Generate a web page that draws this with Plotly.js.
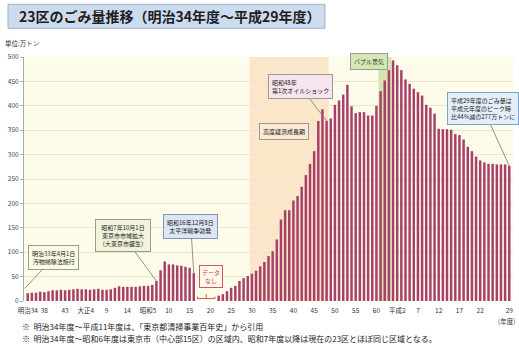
<!DOCTYPE html>
<html>
<head>
<meta charset="utf-8">
<script src="https://cdn.plot.ly/plotly-3.0.1.min.js"></script>
<style>
html,body{margin:0;padding:0;background:#fff;}
#chart{width:519px;height:357px;}
</style>
</head>
<body>
<div id="chart"></div>
<script>
// Fiscal years (西暦) and waste amount (万トン); null = no data
const fiscalYears = [
 1901,1902,1903,1904,1905,1906,1907,1908,1909,1910,
 1911,1912,1913,1914,1915,1916,1917,1918,1919,1920,
 1921,1922,1923,1924,1925,1926,1927,1928,1929,1930,
 1931,1932,1933,1934,1935,1936,1937,1938,1939,1940,
 1941,1942,1943,1944,1945,1946,1947,1948,1949,1950,
 1951,1952,1953,1954,1955,1956,1957,1958,1959,1960,
 1961,1962,1963,1964,1965,1966,1967,1968,1969,1970,
 1971,1972,1973,1974,1975,1976,1977,1978,1979,1980,
 1981,1982,1983,1984,1985,1986,1987,1988,1989,1990,
 1991,1992,1993,1994,1995,1996,1997,1998,1999,2000,
 2001,2002,2003,2004,2005,2006,2007,2008,2009,2010,
 2011,2012,2013,2014,2015,2016,2017
];
const wasteAmount = [
 16,17,17,19,18,20,22,22,23,22,
 23,24,25,24,24,23,24,25,23,23,
 24,27,30,29,29,29,29,30,31,31,
 33,41,63,81,75,75,73,72,70,68,
 57,null,null,null,null,null,11,14,20,27,
 31,41,47,51,56,62,71,80,92,102,
 126,167,186,186,206,215,234,258,281,307,
 369,393,369,374,402,411,423,443,399,385,
 387,387,380,380,400,430,452,473,493,483,
 473,454,445,435,428,421,402,396,384,353,
 352,352,351,342,340,331,316,307,296,288,
 284,281,281,280,280,280,277
];
const tickYears = [1901,1905,1910,1915,1920,1925,1930,1935,1940,1945,1950,1955,1960,1965,1970,1975,1980,1985,1990,1995,2000,2005,2010,2017];
const tickLabels = ['明治34','38','43','大正4','9','14','昭和5','10','15','20','25','30','35','40','45','50','55','60','平成2','7','12','17','22','29'];

const JP = '"Noto Sans CJK JP", "Noto Sans", sans-serif';

const trace = {
  type: 'bar',
  x: fiscalYears,
  y: wasteAmount,
  width: 0.6,
  marker: {color: '#a8416a', line: {width: 0}},
  hoverinfo: 'x+y'
};

// px helpers for layout placement (plot area: left 24, width 489, bottom 300.7, height 244)
const PL = 24, PW = 489, PB = 300.7, PH = 244;
const px = v => (v - PL) / PW;
const py = v => (PB - v) / PH;

function callout(text, x, y, ax, ay, bg, border, opts) {
  return Object.assign({
    text: text, x: x, y: y, xref: 'x', yref: 'y',
    ax: ax, ay: ay, axref: 'pixel', ayref: 'pixel',
    showarrow: true, arrowhead: 0, arrowwidth: 0.8, arrowcolor: '#777',
    bgcolor: bg, bordercolor: border, borderwidth: 1, borderpad: 3,
    font: {family: JP, size: 6, color: '#222'}, align: 'center'
  }, opts || {});
}
function box(text, cx, cy, bg, border, opts) {
  return Object.assign({
    text: text, x: px(cx), y: py(cy), xref: 'paper', yref: 'paper',
    xanchor: 'center', yanchor: 'middle', showarrow: false,
    bgcolor: bg, bordercolor: border, borderwidth: 1, borderpad: 3,
    font: {family: JP, size: 6, color: '#222'}, align: 'center'
  }, opts || {});
}
function label(text, lx, ly, size, opts) {
  return Object.assign({
    text: text, x: px(lx), y: py(ly), xref: 'paper', yref: 'paper',
    xanchor: 'left', yanchor: 'middle', showarrow: false,
    font: {family: JP, size: size, color: '#333'}
  }, opts || {});
}

const layout = {
  width: 519, height: 357,
  margin: {l: 24, r: 6, t: 57, b: 56.3, pad: 0},
  paper_bgcolor: '#ffffff',
  plot_bgcolor: '#fdfbea',
  showlegend: false,
  bargap: 0.4,
  font: {family: JP, color: '#333'},
  xaxis: {
    range: [1900.1, 2017.9],
    tickmode: 'array', tickvals: tickYears, ticktext: tickLabels,
    tickfont: {family: JP, size: 6.5, color: '#333'},
    ticks: 'outside', ticklen: 3, tickcolor: 'rgba(0,0,0,0)',
    showgrid: false, zeroline: false, showline: false
  },
  yaxis: {
    range: [0, 500], dtick: 50, tick0: 0,
    tickfont: {family: JP, size: 6.5, color: '#444'},
    ticks: 'outside', ticklen: 3, tickcolor: '#aaa',
    showgrid: true, gridcolor: '#ece7cc', gridwidth: 1,
    zeroline: false, showline: true, linecolor: '#aaa', linewidth: 1
  },
  shapes: [
    // 高度経済成長期 band
    {type: 'rect', xref: 'x', yref: 'y', x0: 1954.5, x1: 1973.5, y0: 0, y1: 500,
     fillcolor: '#fbe6c9', line: {width: 0}, layer: 'below'},
    // バブル景気 band
    {type: 'rect', xref: 'x', yref: 'y', x0: 1985.5, x1: 1988.6, y0: 0, y1: 500,
     fillcolor: '#d3e4ad', line: {width: 0}, layer: 'below'},
    // title box
    {type: 'rect', xref: 'paper', yref: 'paper', x0: px(8), x1: px(325), y0: py(28), y1: py(4),
     fillcolor: '#cddbee', line: {color: '#9fb2cc', width: 1}},
    // データなし bracket
    {type: 'path', xref: 'x', yref: 'y',
     path: 'M 1941.9 9 L 1941.9 5 L 1946.1 5 L 1946.1 9 M 1944 5 L 1944 14',
     line: {color: '#c85a50', width: 1}}
  ],
  annotations: [
    // title
    label('<b>23区のごみ量推移（明治34年度～平成29年度）</b>', 17, 16, 14, {font: {family: JP, size: 14, color: '#1e1e1e'}}),
    label('単位:万トン', 3, 43, 6.5),
    label('(年度)', 496, 321, 6.5),
    label('※  明治34年度～平成11年度は、「東京都清掃事業百年史」から引用', 20, 326, 8, {font: {family: JP, size: 8, color: '#222'}}),
    label('※  明治34年度～昭和6年度は東京市（中心部15区）の区域内、昭和7年度以降は現在の23区とほぼ同じ区域となる。', 20, 338, 8, {font: {family: JP, size: 8, color: '#222'}}),
    callout('明治33年4月1日<br>汚物掃除法施行', 1900.3, 26, 29, -31, '#fbfbe2', '#999'),
    callout('昭和7年10月1日<br>東京市市域拡大<br>（大東京市誕生）', 1932, 41, -33, -45, '#f1f3da', '#999'),
    callout('昭和16年12月8日<br>太平洋戦争勃発', 1941, 57, -3, -47, '#dde6f4', '#8796b0'),
    box('データ<br>なし', 211, 276, '#fff8f0', '#d05a50', {font: {family: JP, size: 6, color: '#d04040'}, borderpad: 2}),
    box('高度経済成長期', 284, 131, '#fbe9d2', '#999'),
    callout('昭和48年<br>第1次オイルショック', 1973, 369, -26, -34, '#f6e4ef', '#999', {align: 'left'}),
    box('バブル景気', 369, 61, '#d5e7b4', '#999'),
    callout('平成29年度のごみ量は<br>平成元年度のピーク時<br>比44%減の277万トンに', 2017, 277, -26, -57, '#e3eef9', '#7fa3c8', {align: 'left'})
  ]
};

Plotly.newPlot('chart', [trace], layout, {displayModeBar: false, staticPlot: true});
</script>
</body>
</html>
